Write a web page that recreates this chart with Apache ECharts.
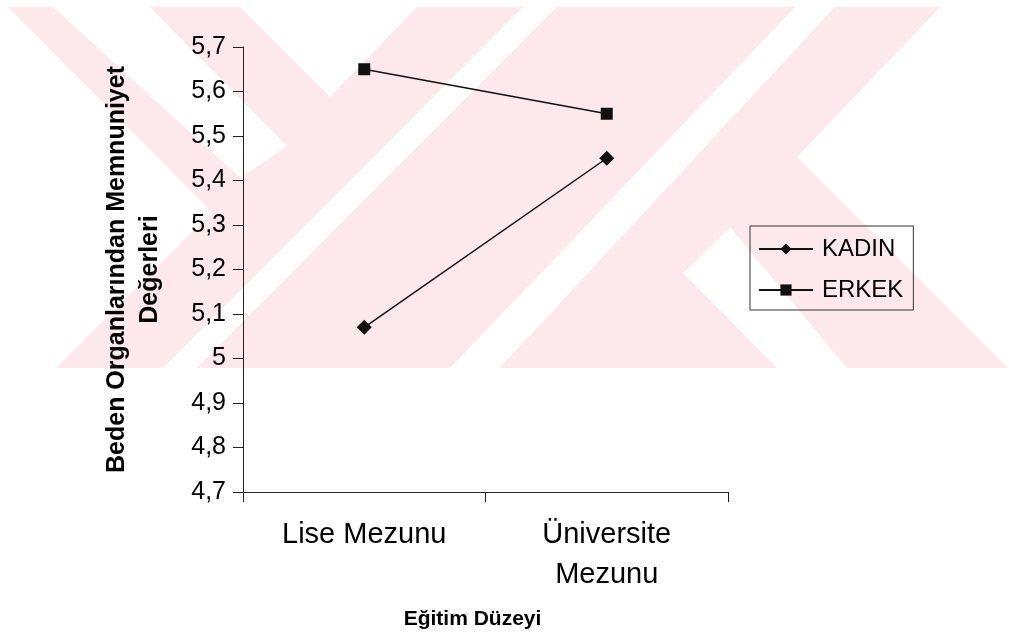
<!DOCTYPE html>
<html>
<head>
<meta charset="utf-8">
<script src="https://cdn.jsdelivr.net/npm/echarts@6/dist/echarts.min.js"></script>
<style>
html,body{margin:0;padding:0;background:#fff;}
#chart{width:1009px;height:636px;}
</style>
</head>
<body>
<div id="chart"></div>
<script>
// ---- data ----
const categories = ['Lise Mezunu', 'Üniversite\nMezunu'];
const seriesNames = ['KADIN', 'ERKEK'];
const kadinValues = [5.07, 5.45];
const erkekValues = [5.65, 5.55];
const yMin = 4.7, yMax = 5.7, yStep = 0.1;
const yAxisTitle = 'Beden Organlarından Memnuniyet\nDeğerleri';
const xAxisTitle = 'Eğitim Düzeyi';

// ---- background watermark decoration (pixel shapes) ----
const wmPink = '#fde8eb';
const wmBand = [[0,7],[1009,7],[1009,368],[0,368]];
const wmGaps = [
  [[0,7],[8,7],[212,212],[56,368],[0,368]],
  [[53,7],[150,7],[287,146],[240,178]],
  [[240,7],[417,7],[330,97]],
  [[523,7],[557,7],[197,368],[163,368]],
  [[795,7],[835,7],[500,368],[450,368]],
  [[940,7],[1009,7],[1009,368],[1008,368],[797,157]],
  [[683,273],[730,227],[847,368],[777,368]]
];

const font = '"Liberation Sans", Arial, sans-serif';
const chart = echarts.init(document.getElementById('chart'), null, {renderer: 'canvas'});

const graphics = [{type: 'polygon', z: -100, silent: true, shape: {points: wmBand}, style: {fill: wmPink}}]
  .concat(wmGaps.map(p => ({type: 'polygon', z: -99, silent: true, shape: {points: p}, style: {fill: '#ffffff'}})));

chart.setOption({
  backgroundColor: '#ffffff',
  animation: false,
  graphic: graphics,
  grid: {left: 243, right: 281, top: 47, bottom: 144, containLabel: false},
  legend: {
    orient: 'vertical',
    left: 750, top: 226,
    padding: [10, 10, 7, 8],
    itemWidth: 54, itemHeight: 14, itemGap: 15,
    borderColor: '#333', borderWidth: 1,
    backgroundColor: 'transparent',
    textStyle: {fontFamily: font, fontSize: 24, color: '#000', lineHeight: 26, padding: [0,0,0,4]},
    data: seriesNames
  },
  xAxis: {
    type: 'category',
    data: categories,
    boundaryGap: true,
    axisLine: {lineStyle: {color: '#222', width: 1}},
    axisTick: {show: true, length: 10, alignWithLabel: false, lineStyle: {color: '#222'}},
    axisLabel: {fontFamily: font, fontSize: 29, color: '#000', margin: 23, lineHeight: 40, interval: 0},
    name: xAxisTitle,
    nameLocation: 'middle',
    nameGap: 117,
    nameTextStyle: {fontFamily: font, fontSize: 21, fontWeight: 'bold', color: '#000', padding: [0, 26, 0, 0]}
  },
  yAxis: {
    type: 'value',
    min: yMin, max: yMax, interval: yStep,
    splitLine: {show: false},
    axisLine: {show: true, lineStyle: {color: '#222', width: 1}},
    axisTick: {show: true, length: 10, lineStyle: {color: '#222'}},
    axisLabel: {
      fontFamily: font, fontSize: 25, color: '#000', margin: 17,
      formatter: v => (Math.round(v * 10) / 10).toString().replace('.', ',')
    },
    name: yAxisTitle,
    nameLocation: 'middle',
    nameGap: 76,
    nameRotate: 90,
    nameTextStyle: {fontFamily: font, fontSize: 25, fontWeight: 'bold', color: '#000', lineHeight: 33}
  },
  series: [
    {
      name: seriesNames[0], type: 'line', data: kadinValues,
      symbol: 'diamond', symbolSize: 15,
      lineStyle: {color: '#111', width: 1.5},
      itemStyle: {color: '#111'},
      color: '#111'
    },
    {
      name: seriesNames[1], type: 'line', data: erkekValues,
      symbol: 'rect', symbolSize: 12,
      lineStyle: {color: '#111', width: 1.5},
      itemStyle: {color: '#111'},
      color: '#111'
    }
  ]
});
</script>
</body>
</html>
